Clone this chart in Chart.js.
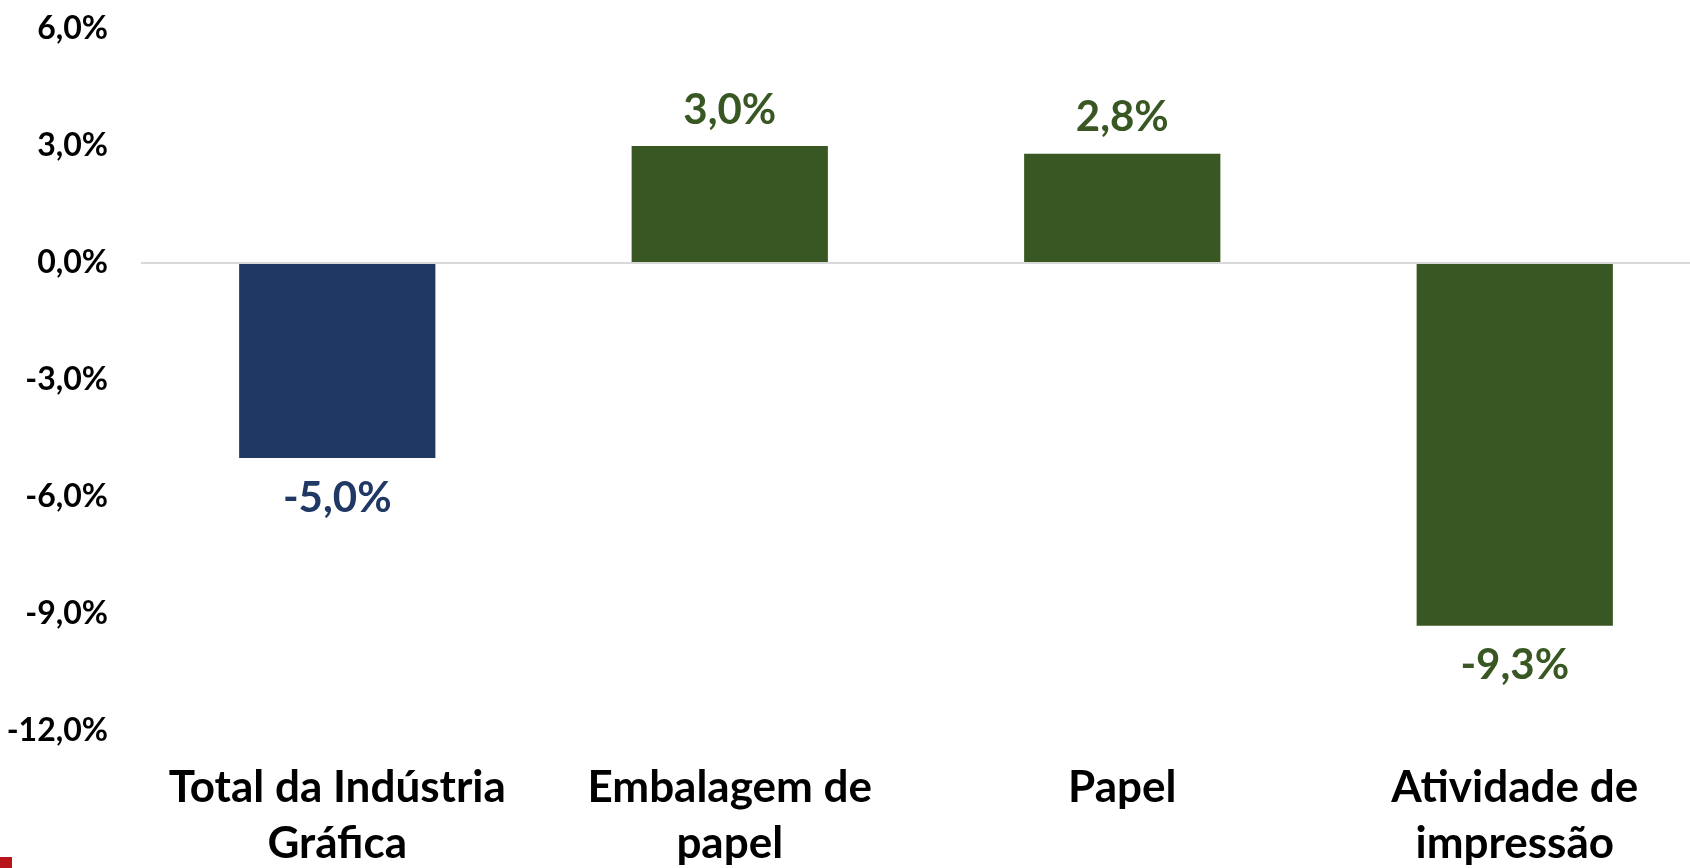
<!DOCTYPE html>
<html>
<head>
<meta charset="utf-8">
<script src="https://cdn.jsdelivr.net/npm/chart.js@4.4.0/dist/chart.umd.min.js"></script>
<style>
  html, body { margin: 0; padding: 0; background: #fff; overflow: hidden; }
  #wrap { position: relative; width: 1711px; height: 868px; }
  #marca { position: absolute; left: 0; top: 857px; width: 12px; height: 11px; background: #b8141c; }
</style>
</head>
<body>
<div id="wrap">
  <canvas id="grafico"></canvas>
  <div id="marca"></div>
</div>
<script>
// dados do gráfico
const categorias = [
    ["Total da Indústria", "Gráfica"],
    ["Embalagem de", "papel"],
    ["Papel"],
    ["Atividade de", "impressão"]
];
const variacao = [-5.0, 3.0, 2.8, -9.3];
const coresBarras = ["#203864", "#385723", "#385723", "#385723"];
const eixoMin = -12;
const eixoMax = 6;
const eixoPasso = 3;

const fonte = "Lato, 'Open Sans', sans-serif";

const formatoPct = (v) => v.toFixed(1).replace(".", ",") + "%";

// rótulos de valor acima/abaixo das barras
const rotulosValor = {
    id: "rotulosValor",
    afterDatasetsDraw(chart) {
        const ctx = chart.ctx;
        const meta = chart.getDatasetMeta(0);
        ctx.save();
        ctx.font = "bold 42px " + fonte;
        ctx.textAlign = "center";
        ctx.textBaseline = "middle";
        meta.data.forEach((barra, i) => {
            const valor = variacao[i];
            ctx.fillStyle = coresBarras[i];
            const y = valor >= 0 ? barra.y - 36 : barra.y + 40;
            ctx.fillText(formatoPct(valor), barra.x, y);
        });
        ctx.restore();
    }
};

const config = {
    type: "bar",
    data: {
        labels: categorias,
        datasets: [{
            data: variacao,
            backgroundColor: coresBarras,
            borderWidth: 0,
            barPercentage: 0.5,
            categoryPercentage: 1.0
        }]
    },
    options: {
        responsive: true,
        maintainAspectRatio: false,
        animation: false,
        layout: { padding: { top: 29, left: 0, right: 0, bottom: 0 } },
        plugins: {
            legend: { display: false },
            tooltip: { enabled: false }
        },
        scales: {
            x: {
                grid: { display: false },
                border: { display: false },
                ticks: {
                    color: "#000",
                    padding: 20,
                    maxRotation: 0,
                    autoSkip: false,
                    font: { family: fonte, size: 44, weight: "bold", lineHeight: 1.29 }
                },
                afterFit: (scale) => { scale.height = 137; }
            },
            y: {
                min: eixoMin,
                max: eixoMax,
                border: { display: false },
                grid: {
                    drawTicks: false,
                    lineWidth: 2,
                    color: (c) => (c.tick && c.tick.value === 0 ? "#d9d9d9" : "rgba(0,0,0,0)")
                },
                ticks: {
                    stepSize: eixoPasso,
                    color: "#000",
                    padding: 33,
                    font: { family: fonte, size: 32, weight: "bold" },
                    callback: (v) => formatoPct(v)
                },
                afterFit: (scale) => {
                    scale.width = 141;
                    // sem folga extra acima/abaixo do eixo
                    scale.paddingTop = 0;
                    scale.paddingBottom = 0;
                }
            }
        }
    },
    plugins: [rotulosValor]
};

window.onload = function () {
    new Chart(document.getElementById("grafico"), config);
};
</script>
</body>
</html>
